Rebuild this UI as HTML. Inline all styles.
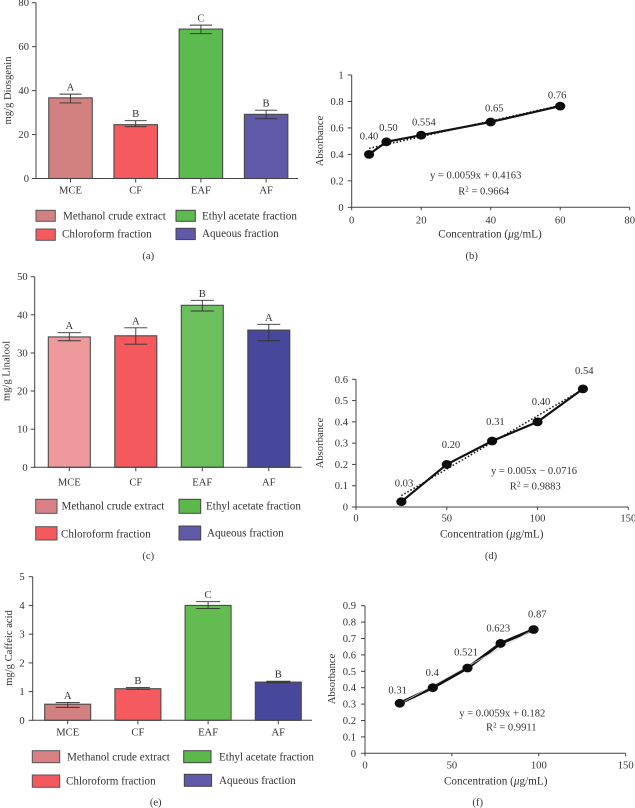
<!DOCTYPE html>
<html lang="en">
<head>
<meta charset="utf-8">
<title>Diosgenin, linalool and caffeic acid fractions with calibration curves</title>
<style>
html,body{margin:0;padding:0;background:#fff;width:635px;height:808px;overflow:hidden}
svg{display:block;filter:blur(.35px)}
text{font-family:"Liberation Serif",serif;font-size:10.6px;fill:#333}
g.legend text{font-size:11.1px}
text.xtitle{font-size:11.2px}
</style>
</head>
<body>
<svg id="figure" xmlns="http://www.w3.org/2000/svg" width="635" height="808" viewBox="0 0 635 808">
  <g class="legend">
    <rect x="36" y="210.3" width="19.3" height="11" fill="#D28080" stroke="#555" stroke-width="1"/>
    <text x="63" y="219.3">Methanol crude extract</text>
    <rect x="36" y="229" width="19.3" height="11.3" fill="#F45A5E" stroke="#555" stroke-width="1"/>
    <text x="62" y="237.7">Chloroform fraction</text>
    <rect x="176" y="210.3" width="19.3" height="11" fill="#5CBB4E" stroke="#444" stroke-width="1"/>
    <text x="202" y="219.3">Ethyl acetate fraction</text>
    <rect x="176" y="228.3" width="19.3" height="11.3" fill="#5F59A8" stroke="#444" stroke-width="1"/>
    <text x="202" y="237">Aqueous fraction</text>
  </g>
  <g class="legend">
    <rect x="35.7" y="499.3" width="21.3" height="14" fill="#D88083" stroke="#555" stroke-width="1"/>
    <text x="61.5" y="509.3">Methanol crude extract</text>
    <rect x="35.7" y="526.7" width="21.3" height="13.3" fill="#F4595E" stroke="#555" stroke-width="1"/>
    <text x="61" y="537.7">Chloroform fraction</text>
    <rect x="179" y="499.3" width="21.7" height="14" fill="#5BB94B" stroke="#444" stroke-width="1"/>
    <text x="206" y="509.3">Ethyl acetate fraction</text>
    <rect x="179" y="526" width="21.7" height="14" fill="#5F59A8" stroke="#444" stroke-width="1"/>
    <text x="207" y="536.7">Aqueous fraction</text>
  </g>
  <g class="legend">
    <rect x="32.3" y="750.7" width="27.4" height="12" fill="#D88083" stroke="#555" stroke-width="1"/>
    <text x="67" y="760.7">Methanol crude extract</text>
    <rect x="32.3" y="775" width="27.4" height="12.3" fill="#F4595E" stroke="#555" stroke-width="1"/>
    <text x="66" y="784.3">Chloroform fraction</text>
    <rect x="183.7" y="750.7" width="27.3" height="12" fill="#5BB94B" stroke="#444" stroke-width="1"/>
    <text x="219" y="760.7">Ethyl acetate fraction</text>
    <rect x="184.3" y="774.3" width="27.3" height="12" fill="#5F59A8" stroke="#444" stroke-width="1"/>
    <text x="219" y="784">Aqueous fraction</text>
  </g>
  <text x="148.3" y="259" text-anchor="middle">(a)</text>
  <text x="471.7" y="259" text-anchor="middle">(b)</text>
  <text x="148.3" y="559" text-anchor="middle">(c)</text>
  <text x="491" y="559" text-anchor="middle">(d)</text>
  <text x="155.7" y="805.7" text-anchor="middle">(e)</text>
  <text x="477.7" y="805.7" text-anchor="middle">(f)</text>

  <text transform="translate(11,90.5) rotate(-90)" text-anchor="middle">mg/g Diosgenin</text>
  <text transform="translate(9.5,371) rotate(-90)" text-anchor="middle">mg/g Linalool</text>
  <text transform="translate(12,648) rotate(-90)" text-anchor="middle">mg/g Caffeic acid</text>
  <text transform="translate(323,141) rotate(-90)" text-anchor="middle">Absorbance</text>
  <text transform="translate(323,443) rotate(-90)" text-anchor="middle">Absorbance</text>
  <text transform="translate(335,679) rotate(-90)" text-anchor="middle">Absorbance</text>

  <text class="xtitle" x="490" y="237.7" text-anchor="middle">Concentration (<tspan font-style="italic">μ</tspan>g/mL)</text>
  <text class="xtitle" x="491.7" y="537.7" text-anchor="middle">Concentration (<tspan font-style="italic">μ</tspan>g/mL)</text>
  <text class="xtitle" x="495.7" y="784.7" text-anchor="middle">Concentration (<tspan font-style="italic">μ</tspan>g/mL)</text>

  <text x="475.7" y="178.3" text-anchor="middle">y = 0.0059x + 0.4163</text>
  <text x="483.7" y="194.3" text-anchor="middle">R<tspan font-size="7" dy="-3">2</tspan><tspan dy="3"> = 0.9664</tspan></text>
  <text x="534" y="474" text-anchor="middle">y = 0.005x − 0.0716</text>
  <text x="535.3" y="489.3" text-anchor="middle">R<tspan font-size="7" dy="-3">2</tspan><tspan dy="3"> = 0.9883</tspan></text>
  <text x="502.3" y="716.7" text-anchor="middle">y = 0.0059x + 0.182</text>
  <text x="511.3" y="730.7" text-anchor="middle">R<tspan font-size="7" dy="-3">2</tspan><tspan dy="3"> = 0.9911</tspan></text>
</svg>
<script>
// ---------- bar chart data ----------
const barCategories = ['MCE', 'CF', 'EAF', 'AF'];

const diosgeninValues = [36.7, 24.5, 68, 29.2];
const diosgeninErrHigh = [38.4, 26.3, 69.8, 31.1];
const diosgeninErrLow = [34.4, 23.6, 65.9, 27.2];
const diosgeninLetters = ['A', 'B', 'C', 'B'];
const diosgeninTicks = [0, 20, 40, 60, 80];

const linaloolValues = [34.2, 34.5, 42.5, 36];
const linaloolErrHigh = [35.3, 36.6, 43.8, 37.5];
const linaloolErrLow = [33.2, 32.3, 41, 33.2];
const linaloolLetters = ['A', 'A', 'B', 'A'];
const linaloolTicks = [0, 10, 20, 30, 40, 50];

const caffeicValues = [0.56, 1.1, 4.0, 1.33];
const caffeicErrHigh = [0.615, 1.14, 4.13, 1.36];
const caffeicErrLow = [0.45, 1.08, 3.89, 1.31];
const caffeicLetters = ['A', 'B', 'C', 'B'];
const caffeicTicks = [0, 1, 2, 3, 4, 5];

// ---------- calibration curve data ----------
const curveBX = [5, 10, 20, 40, 60];
const curveBY = [0.40, 0.495, 0.545, 0.645, 0.765];
const curveBLabels = ['0.40', '0.50', '0.554', '0.65', '0.76'];
const curveBXTicks = [0, 20, 40, 60, 80];
const curveBYTicks = ['0', '0.2', '0.4', '0.6', '0.8', '1'];
const curveBTrend = [0.0059, 0.4163];

const curveDX = [25, 50, 75, 100, 125];
const curveDY = [0.025, 0.2, 0.31, 0.40, 0.555];
const curveDLabels = ['0.03', '0.20', '0.31', '0.40', '0.54'];
const curveDXTicks = [0, 50, 100, 150];
const curveDYTicks = ['0', '0.1', '0.2', '0.3', '0.4', '0.5', '0.6'];
const curveDTrend = [0.005, -0.0716];

const curveFX = [20, 39, 59, 78, 97];
const curveFY = [0.305, 0.40, 0.52, 0.67, 0.755];
const curveFLabels = ['0.31', '0.4', '0.521', '0.623', '0.87'];
const curveFXTicks = [0, 50, 100, 150];
const curveFYTicks = ['0', '0.1', '0.2', '0.3', '0.4', '0.5', '0.6', '0.7', '0.8', '0.9'];
const curveFTrend = [0.0059, 0.182];

// ---------- drawing ----------
const svg = document.getElementById('figure');
const NS = 'http://www.w3.org/2000/svg';

function shape(parent, tag, props, txt) {
  const el = document.createElementNS(NS, tag);
  for (const k in props) el.setAttribute(k, props[k]);
  if (txt !== undefined) el.textContent = txt;
  parent.appendChild(el);
  return el;
}

function axisLines(g, x0, y0, x1, y1) {
  const yAxis = shape(g, 'line', {x1: x0, x2: x0, y1: y0 + 0.5, y2: y1, stroke: '#444', 'stroke-width': 1});
  
  
  const xAxis = shape(g, 'line', {x1: x0, x2: x1, y1: y0, y2: y0, stroke: '#444', 'stroke-width': 1});
  
  
}

function yTicks(g, ticks, sy, x0, gap) {
  ticks.forEach(function (t) {
    const y = sy(Number(t));
    const tick = shape(g, 'line', {x1: x0 - 4, x2: x0, y1: y, y2: y, stroke: '#444', 'stroke-width': 1});
    
    
    const label = shape(g, 'text', {x: x0 - gap, y: y + 3.5, 'text-anchor': 'end'}, t);
    
    
  });
}

function drawBars(o) {
  const g = shape(svg, 'g', {});
  
  
  const max = o.ticks[o.ticks.length - 1];
  const sy = function (v) { return o.y0 - (o.y0 - o.yTop) * v / max; };
  const cx = function (i) { return o.first + i * o.step; };
  o.values.forEach(function (v, i) {
    const bar = shape(g, 'rect', {x: cx(i) - o.w / 2, y: sy(v), width: o.w, height: o.y0 - sy(v), fill: o.colors[i], stroke: '#4a4a4a', 'stroke-width': 1.1});
    
    
    const c = cx(i), hi = sy(o.high[i]), lo = sy(o.low[i]);
    const err = shape(g, 'path', {d: 'M' + c + ' ' + hi + 'V' + lo + 'M' + (c - o.cap) + ' ' + hi + 'H' + (c + o.cap) + 'M' + (c - o.cap) + ' ' + lo + 'H' + (c + o.cap), fill: 'none', stroke: '#333', 'stroke-width': 0.9});
    
    
    const letter = shape(g, 'text', {x: c, y: hi - 3.5, 'text-anchor': 'middle'}, o.letters[i]);
    
    
    const tick = shape(g, 'line', {x1: c, x2: c, y1: o.y0, y2: o.y0 + 4, stroke: '#444', 'stroke-width': 1});
    
    
    const label = shape(g, 'text', {x: c, y: o.y0 + o.labelDrop, 'text-anchor': 'middle'}, barCategories[i]);
    
    
  });
  axisLines(g, o.x0, o.y0, o.xEnd, o.yTop);
  yTicks(g, o.ticks, sy, o.x0, o.gap);
}

function drawCurve(o) {
  const g = shape(svg, 'g', {});
  
  
  const xMax = o.xTicks[o.xTicks.length - 1];
  const yMax = Number(o.yTicks[o.yTicks.length - 1]);
  const sx = function (v) { return o.x0 + (o.xEnd - o.x0) * v / xMax; };
  const sy = function (v) { return o.y0 - (o.y0 - o.yTop) * v / yMax; };
  axisLines(g, o.x0, o.y0, o.xEnd, o.yTop);
  yTicks(g, o.yTicks, sy, o.x0, o.gap);
  o.xTicks.forEach(function (t) {
    const tick = shape(g, 'line', {x1: sx(t), x2: sx(t), y1: o.y0, y2: o.y0 + 3, stroke: '#444', 'stroke-width': 1});
    
    
    const label = shape(g, 'text', {x: sx(t), y: o.y0 + o.labelDrop, 'text-anchor': 'middle'}, t);
    
    
  });
  const last = o.xs.length - 1;
  const trend = function (x) { return o.trend[0] * x + o.trend[1]; };
  const series = shape(g, 'polyline', {points: o.xs.map(function (x, i) { return sx(x) + ',' + sy(o.ys[i]); }).join(' '), fill: 'none', stroke: '#111', 'stroke-width': o.lineWidth});
  
  
  const fit = shape(g, 'line', {x1: sx(o.xs[0]), y1: sy(trend(o.xs[0])), x2: sx(o.xs[last]), y2: sy(trend(o.xs[last])), stroke: o.trendColor, 'stroke-width': o.trendWidth, 'stroke-dasharray': o.trendDash});
  
  
  o.xs.forEach(function (x, i) {
    const pt = shape(g, 'ellipse', {cx: sx(x), cy: sy(o.ys[i]), rx: 5.1, ry: 4.4, fill: '#0c0c0c'});
    
    
    const label = shape(g, 'text', {x: sx(x) + o.labelDx[i], y: sy(o.ys[i]) + o.labelDy[i], 'text-anchor': 'middle'}, o.labels[i]);
    
    
  });
}

drawBars({name: 'diosgenin-bar-chart', values: diosgeninValues, high: diosgeninErrHigh, low: diosgeninErrLow, letters: diosgeninLetters, ticks: diosgeninTicks,
  colors: ['#D28080', '#F45A5E', '#5CBB4E', '#5F59A8'], x0: 36, y0: 178.5, yTop: 2.7, xEnd: 298, first: 70.5, step: 65.2, w: 43.5, cap: 11, gap: 7, labelDrop: 15});
drawBars({name: 'linalool-bar-chart', values: linaloolValues, high: linaloolErrHigh, low: linaloolErrLow, letters: linaloolLetters, ticks: linaloolTicks,
  colors: ['#EE9A9C', '#F4595E', '#6BBF5C', '#47479B'], x0: 34.7, y0: 467.3, yTop: 276.7, xEnd: 301.7, first: 69.3, step: 66.5, w: 42, cap: 11.5, gap: 7, labelDrop: 18});
drawBars({name: 'caffeic-acid-bar-chart', values: caffeicValues, high: caffeicErrHigh, low: caffeicErrLow, letters: caffeicLetters, ticks: caffeicTicks,
  colors: ['#D28080', '#F45A5E', '#64BC50', '#47479B'], x0: 32.7, y0: 720.3, yTop: 576.7, xEnd: 312, first: 67.7, step: 70.2, w: 46, cap: 12, gap: 8, labelDrop: 15.4});

drawCurve({name: 'diosgenin-calibration-chart', xs: curveBX, ys: curveBY, labels: curveBLabels, xTicks: curveBXTicks, yTicks: curveBYTicks, trend: curveBTrend,
  x0: 351.7, y0: 207.3, yTop: 75, xEnd: 629.7, gap: 8, labelDrop: 16, lineWidth: 2.2, trendColor: '#111', trendWidth: 1.5, trendDash: '1.5 2',
  labelDx: [0, 2, 2.7, 3.6, -3], labelDy: [-15, -11, -9.5, -10.5, -7.5]});
drawCurve({name: 'linalool-calibration-chart', xs: curveDX, ys: curveDY, labels: curveDLabels, xTicks: curveDXTicks, yTicks: curveDYTicks, trend: curveDTrend,
  x0: 356, y0: 507, yTop: 379.3, xEnd: 628.3, gap: 8, labelDrop: 14.7, lineWidth: 2.2, trendColor: '#111', trendWidth: 1.5, trendDash: '1.5 2',
  labelDx: [2.6, 4.2, 3.3, 3.5, 1.4], labelDy: [-15, -16.3, -16, -16.7, -14.7]});
drawCurve({name: 'caffeic-acid-calibration-chart', xs: curveFX, ys: curveFY, labels: curveFLabels, xTicks: curveFXTicks, yTicks: curveFYTicks, trend: curveFTrend,
  x0: 365, y0: 753.3, yTop: 605.7, xEnd: 625.7, gap: 9, labelDrop: 15, lineWidth: 3, trendColor: '#ccc', trendWidth: 0.7, trendDash: 'none',
  labelDx: [-2.1, -0.5, -1.5, -2.3, 3.7], labelDy: [-10, -11.7, -12.3, -12.1, -11.8]});
</script>
</body>
</html>
